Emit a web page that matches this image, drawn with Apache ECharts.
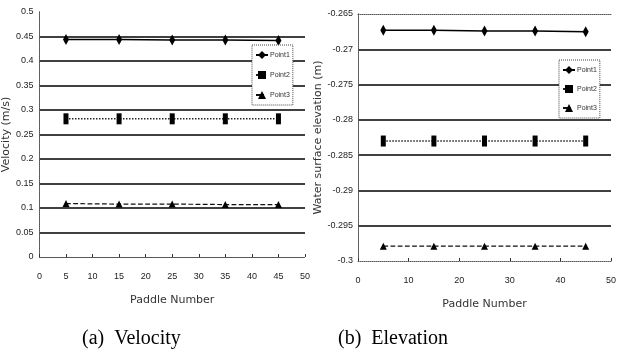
<!DOCTYPE html>
<html>
<head>
<meta charset="utf-8">
<script src="https://cdn.jsdelivr.net/npm/echarts@6/dist/echarts.min.js"></script>
<style>
  html, body { margin: 0; padding: 0; background: #fff; }
  #chart { width: 619px; height: 360px; }
</style>
</head>
<body>
<div id="chart"></div>
<script>
// paddle positions (x) shared by both panels
const paddleNo = [5, 15, 25, 35, 45];
const seriesNames = ['Point1', 'Point2', 'Point3'];

// (a) velocity, m/s
const velPoint1 = [0.444, 0.444, 0.443, 0.443, 0.442];
const velPoint2 = [0.282, 0.282, 0.282, 0.282, 0.282];
const velPoint3 = [0.109, 0.108, 0.108, 0.107, 0.107];

// (b) water surface elevation, m
const elevPoint1 = [-0.2673, -0.2673, -0.2674, -0.2674, -0.2675];
const elevPoint2 = [-0.2830, -0.2830, -0.2830, -0.2830, -0.2830];
const elevPoint3 = [-0.2979, -0.2979, -0.2979, -0.2979, -0.2979];

const toPairs = (ys) => paddleNo.map((x, i) => [x, ys[i]]);

const tickFont = { fontFamily: 'Liberation Sans Narrow, Liberation Sans', fontSize: 9, color: '#222' };
const nameFont = { fontFamily: 'DejaVu Sans', fontSize: 11, color: '#333' };
const capFont = { fontFamily: 'Liberation Serif', fontSize: 20, fontWeight: 'normal', color: '#000' };

const dotted = { show: true, lineStyle: { color: '#555', type: 'dotted', width: 1 } };
const solidGrid = { show: true, showMinLine: false, showMaxLine: false, lineStyle: { color: '#000', width: 1.5 } };

// series look: solid w/ diamonds, dotted w/ boxes, dashed w/ triangles
const looks = [
  { symbol: 'diamond', symbolSize: [6, 11], lineStyle: { color: '#000', width: 1.5, type: 'solid' } },
  { symbol: 'rect', symbolSize: [5, 11], lineStyle: { color: '#222', width: 1.5, type: 'dotted' } },
  { symbol: 'triangle', symbolSize: 7, lineStyle: { color: '#111', width: 1.2, type: 'dashed' } }
];

function makeSeries(idx, data, xi, yi) {
  return {
    name: seriesNames[idx],
    type: 'line',
    xAxisIndex: xi,
    yAxisIndex: yi,
    data: toPairs(data),
    symbol: looks[idx].symbol,
    symbolSize: looks[idx].symbolSize,
    itemStyle: { color: '#000' },
    lineStyle: looks[idx].lineStyle,
    animation: false
  };
}

const myChart = echarts.init(document.getElementById('chart'));

const option = {
  backgroundColor: '#fff',
  animation: false,
  title: [
    { text: '(a)  Velocity', left: 82, top: 329, padding: 0, textStyle: capFont },
    { text: '(b)  Elevation', left: 338, top: 329, padding: 0, textStyle: capFont }
  ],
  legend: [
    {
      data: seriesNames, orient: 'vertical', left: 252, top: 45,
      itemWidth: 12, itemHeight: 10, itemGap: 12, padding: [6, 3, 6, 3],
      backgroundColor: '#fff', borderColor: '#444', borderWidth: 1, borderType: 'dotted',
      textStyle: { fontSize: 7, color: '#333', padding: [0, 0, 0, -3] }
    },
    {
      data: seriesNames, orient: 'vertical', left: 559, top: 60,
      itemWidth: 12, itemHeight: 10, itemGap: 11, padding: [6, 3, 6, 3],
      backgroundColor: '#fff', borderColor: '#444', borderWidth: 1, borderType: 'dotted',
      textStyle: { fontSize: 7, color: '#333', padding: [0, 0, 0, -3] }
    }
  ],
  grid: [
    { left: 38, right: 314, top: 12, bottom: 103 },
    { left: 358, right: 4, top: 14, bottom: 99 }
  ],
  xAxis: [
    {
      gridIndex: 0, type: 'value', min: 0, max: 50, interval: 5,
      name: 'Paddle Number', nameLocation: 'middle', nameGap: 38, nameTextStyle: nameFont,
      axisLine: dotted, axisTick: { show: true, inside: true, length: 3, lineStyle: { color: '#333' } },
      axisLabel: Object.assign({ margin: 15 }, tickFont), splitLine: { show: false }
    },
    {
      gridIndex: 1, type: 'value', min: 0, max: 50, interval: 10,
      name: 'Paddle Number', nameLocation: 'middle', nameGap: 38, nameTextStyle: nameFont,
      axisLine: dotted, axisTick: { show: true, inside: true, length: 3, lineStyle: { color: '#333' } },
      axisLabel: Object.assign({ margin: 15 }, tickFont), splitLine: { show: false }
    },
    // top borders
    { gridIndex: 0, type: 'value', position: 'top', min: 0, max: 1, axisLine: dotted, axisTick: { show: false }, axisLabel: { show: false }, splitLine: { show: false } },
    { gridIndex: 1, type: 'value', position: 'top', min: 0, max: 1, axisLine: dotted, axisTick: { show: false }, axisLabel: { show: false }, splitLine: { show: false } }
  ],
  yAxis: [
    {
      gridIndex: 0, type: 'value', min: 0, max: 0.5, interval: 0.05,
      name: 'Velocity (m/s)', nameLocation: 'middle', nameGap: 26, nameTextStyle: nameFont,
      axisLine: dotted, axisTick: { show: false },
      axisLabel: Object.assign({ margin: 6 }, tickFont), splitLine: solidGrid
    },
    {
      gridIndex: 1, type: 'value', min: -0.3, max: -0.265, interval: 0.005,
      name: 'Water surface elevation (m)', nameLocation: 'middle', nameGap: 34, nameTextStyle: nameFont,
      axisLine: dotted, axisTick: { show: false },
      axisLabel: Object.assign({ margin: 5 }, tickFont), splitLine: solidGrid
    },
    // right borders
    { gridIndex: 0, type: 'value', position: 'right', min: 0, max: 1, axisLine: dotted, axisTick: { show: false }, axisLabel: { show: false }, splitLine: { show: false } },
    { gridIndex: 1, type: 'value', position: 'right', min: 0, max: 1, axisLine: dotted, axisTick: { show: false }, axisLabel: { show: false }, splitLine: { show: false } }
  ],
  series: [
    makeSeries(0, velPoint1, 0, 0),
    makeSeries(1, velPoint2, 0, 0),
    makeSeries(2, velPoint3, 0, 0),
    makeSeries(0, elevPoint1, 1, 1),
    makeSeries(1, elevPoint2, 1, 1),
    makeSeries(2, elevPoint3, 1, 1)
  ]
};

myChart.setOption(option);
</script>
</body>
</html>
